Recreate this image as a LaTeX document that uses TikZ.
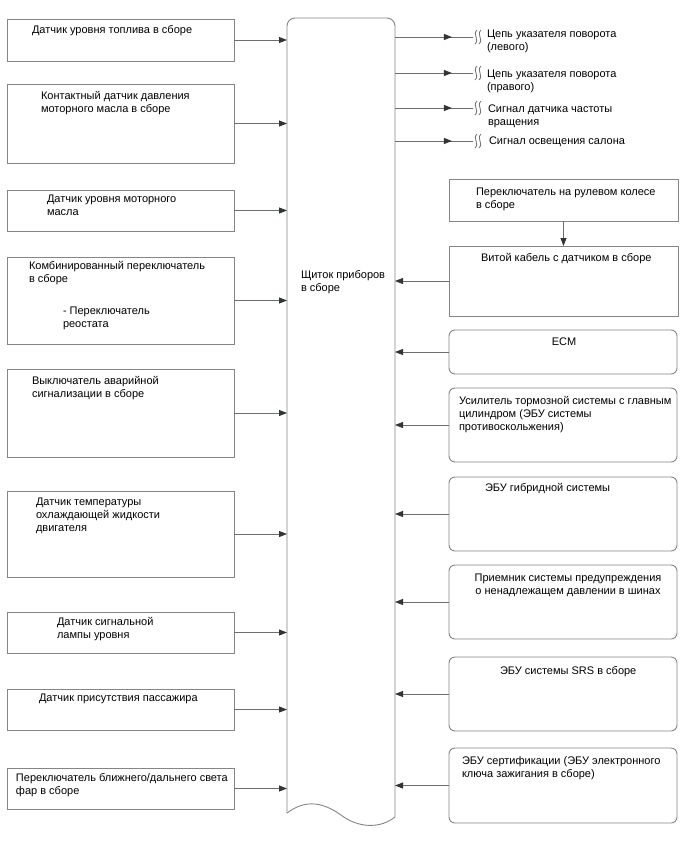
\documentclass[tikz,border=0pt]{standalone}
\usepackage{fontspec}
\setmainfont{Liberation Sans}
\usetikzlibrary{arrows.meta,decorations.markings}
\definecolor{linec}{HTML}{6E6E6E}
\definecolor{boxc}{HTML}{858585}
\definecolor{arrc}{HTML}{2E3636}
\begin{document}
\begin{tikzpicture}[x=1pt,y=-1pt,
  every node/.style={inner sep=0pt,outer sep=0pt},
  lbox/.style={draw=boxc,line width=0.9pt,anchor=north west,minimum width=227pt},
  rbox/.style={draw=boxc,line width=0.9pt,anchor=north west,minimum width=228pt,rounded corners=6pt},
  sbox/.style={draw=boxc,line width=0.9pt,anchor=north west,minimum width=229pt},
  txt/.style={anchor=base west,align=left,font=\fontsize{11}{13}\selectfont},
  ctxt/.style={anchor=base,align=center,font=\fontsize{11}{13}\selectfont},
  conn/.style={draw=linec,line width=0.9pt,-{Triangle[length=8pt,width=6pt,fill=arrc,color=arrc]}},
  outc/.style={draw=linec,line width=0.9pt,postaction={decorate},
    decoration={markings,mark=at position 0.73 with {\arrow[arrc]{Triangle[length=8pt,width=6pt]}}}},
  brk/.style={draw=linec,line width=0.8pt}
]
\useasboundingbox (0,0) rectangle (688,852);

% central panel
\node[anchor=north west,minimum width=108pt,minimum height=799pt] (panel) at (287,18) {};
\draw[boxc,line width=0.9pt,rounded corners=8pt] (287,813) -- (287,18) -- (395,18) -- (395,817);
\draw[boxc,line width=0.9pt] (287,813) .. controls (303,801) and (320,800) .. (341,815)
   .. controls (358,828) and (380,829) .. (395,817);
\node[txt] (paneltxt) at (301,291) {Щиток приборов\\в сборе};

% left boxes
\node[lbox,minimum height=42pt] (b1) at (7,19) {};
\node[txt] (t1) at (32,33) {Датчик уровня топлива в сборе};
\node[lbox,minimum height=79pt] (b2) at (7,84) {};
\node[txt] (t2) at (41,112) {Контактный датчик давления\\моторного масла в сборе};
\node[lbox,minimum height=41pt] (b3) at (7,190) {};
\node[txt] (t3) at (47,215) {Датчик уровня моторного\\масла};
\node[lbox,minimum height=87pt] (b4) at (7,257) {};
\node[txt] (t4) at (29,282) {Комбинированный переключатель\\в сборе};
\node[txt] (t4b) at (63,327) {- Переключатель\\реостата};
\node[lbox,minimum height=88pt] (b5) at (7,369) {};
\node[txt] (t5) at (32,397) {Выключатель аварийной\\сигнализации в сборе};
\node[lbox,minimum height=86pt] (b6) at (7,491) {};
\node[txt] (t6) at (36,531) {Датчик температуры\\охлаждающей жидкости\\двигателя};
\node[lbox,minimum height=41pt] (b7) at (7,612) {};
\node[txt] (t7) at (57,638) {Датчик сигнальной\\лампы уровня};
\node[lbox,minimum height=41pt] (b8) at (7,689) {};
\node[txt] (t8) at (39,701) {Датчик присутствия пассажира};
\node[lbox,minimum height=41pt] (b9) at (7,768) {};
\node[txt] (t9) at (16,794) {Переключатель ближнего/дальнего света\\фар в сборе};

\foreach \b in {b1,b2,b3,b4,b5,b6,b7,b8,b9}
  \draw[conn] (\b.east) -- (\b.east -| panel.west);

% outputs
\foreach \n/\y in {1/37,2/73,3/108,4/141}{
  \coordinate (o\n) at (473,\y);
  \draw[outc] (panel.east |- o\n) -- (o\n);
  \draw[brk] (477,\y-7) .. controls (472,\y-2) and (480,\y+2) .. (475,\y+7);
  \draw[brk] (481,\y-7) .. controls (476,\y-2) and (484,\y+2) .. (479,\y+7);
}
\node[txt] (ot1) at (487,50) {Цепь указателя поворота\\(левого)};
\node[txt] (ot2) at (487,90) {Цепь указателя поворота\\(правого)};
\node[txt] (ot3) at (488,125) {Сигнал датчика частоты\\вращения};
\node[txt] (ot4) at (489,144) {Сигнал освещения салона};

% right boxes
\node[sbox,minimum height=42pt] (r1) at (449,179) {};
\node[txt] (rt1) at (476,208) {Переключатель на рулевом колесе\\в сборе};
\node[sbox,minimum height=70pt] (r2) at (449,246) {};
\node[txt] (rt2) at (481,261) {Витой кабель с датчиком в сборе};
\draw[conn] (r1.south) -- (r2.north);

\node[rbox,minimum height=44pt] (r3) at (449,330) {};
\node[ctxt] (rt3) at (564,345) {ECM};
\node[rbox,minimum height=74pt] (r4) at (449,388) {};
\node[txt] (rt4) at (459,430) {Усилитель тормозной системы с главным\\цилиндром (ЭБУ системы\\противоскольжения)};
\node[rbox,minimum height=74pt] (r5) at (449,477) {};
\node[txt] (rt5) at (485,491) {ЭБУ гибридной системы};
\node[rbox,minimum height=74pt] (r6) at (449,565) {};
\node[ctxt] (rt6) at (568,594) {Приемник системы предупреждения\\о ненадлежащем давлении в шинах};
\node[rbox,minimum height=74pt] (r7) at (449,657) {};
\node[txt] (rt7) at (500,674) {ЭБУ системы SRS в сборе};
\node[rbox,minimum height=75pt] (r8) at (449,748) {};
\node[txt] (rt8) at (462,777) {ЭБУ сертификации (ЭБУ электронного\\ключа зажигания в сборе)};

\foreach \r in {r2,r3,r4,r5,r6,r7,r8}
  \draw[conn] (\r.west) -- (\r.west -| panel.east);
\end{tikzpicture}
\end{document}
